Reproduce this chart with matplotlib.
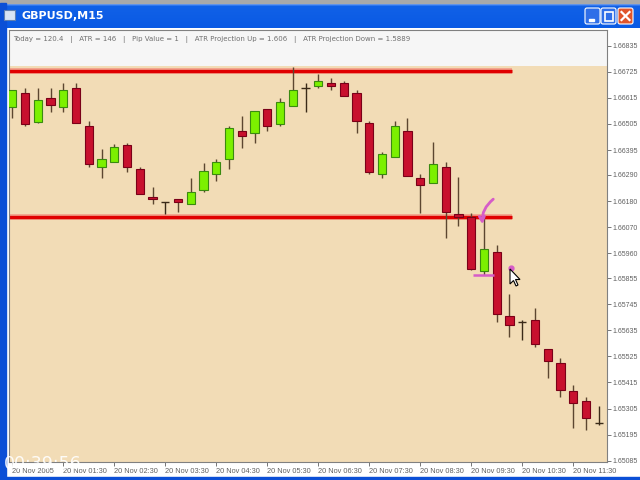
import matplotlib.pyplot as plt
import numpy as np
from matplotlib.patches import Rectangle, FancyBboxPatch, Polygon


# GBPUSD M15 candles, 20 Nov 2005 from 00:30
opens = [1.66577, 1.66636, 1.66513, 1.66614, 1.66577, 1.66657, 1.66496, 1.66323,
         1.66345, 1.66416, 1.66315, 1.66197, 1.66176, 1.66189, 1.66167, 1.66227,
         1.66294, 1.66357, 1.66475, 1.66467, 1.66568, 1.66505, 1.66581, 1.66657,
         1.66665, 1.66678, 1.66678, 1.66636, 1.66509, 1.66294, 1.66366, 1.66475,
         1.66277, 1.66256, 1.66323, 1.66125, 1.66113, 1.65885, 1.65965, 1.65695,
         1.65670, 1.65678, 1.65556, 1.65497, 1.65379, 1.65337, 1.65244]
highs = [1.66648, 1.66657, 1.66657, 1.66657, 1.66678, 1.66678, 1.66518, 1.66399,
         1.66420, 1.66425, 1.66323, 1.66239, 1.66176, 1.66189, 1.66277, 1.66340,
         1.66357, 1.66496, 1.66539, 1.66560, 1.66568, 1.66614, 1.66745, 1.66678,
         1.66716, 1.66699, 1.66686, 1.66648, 1.66518, 1.66387, 1.66518, 1.66530,
         1.66294, 1.66429, 1.66345, 1.66281, 1.66130, 1.66108, 1.65995, 1.65788,
         1.65678, 1.65729, 1.65556, 1.65518, 1.65404, 1.65354, 1.65316]
lows = [1.66530, 1.66496, 1.66509, 1.66555, 1.66555, 1.66509, 1.66323, 1.66277,
        1.66345, 1.66302, 1.66210, 1.66167, 1.66125, 1.66134, 1.66167, 1.66218,
        1.66264, 1.66315, 1.66404, 1.66425, 1.66475, 1.66496, 1.66581, 1.66555,
        1.66657, 1.66648, 1.66623, 1.66467, 1.66294, 1.66277, 1.66366, 1.66286,
        1.66130, 1.66256, 1.66024, 1.66075, 1.65889, 1.65868, 1.65670, 1.65607,
        1.65594, 1.65564, 1.65434, 1.65354, 1.65223, 1.65214, 1.65235]
closes = [1.66648, 1.66505, 1.66606, 1.66585, 1.66648, 1.66509, 1.66336, 1.66357,
          1.66408, 1.66323, 1.66210, 1.66189, 1.66176, 1.66176, 1.66218, 1.66307,
          1.66345, 1.66488, 1.66454, 1.66560, 1.66496, 1.66598, 1.66648, 1.66657,
          1.66686, 1.66665, 1.66623, 1.66518, 1.66302, 1.66378, 1.66496, 1.66286,
          1.66248, 1.66336, 1.66134, 1.66113, 1.65893, 1.65978, 1.65704, 1.65657,
          1.65670, 1.65577, 1.65505, 1.65383, 1.65328, 1.65265, 1.65244]

price_ticks = [1.66835, 1.66725, 1.66615, 1.66505, 1.66395, 1.66290, 1.66180,
               1.66070, 1.65960, 1.65855, 1.65745, 1.65635, 1.65525, 1.65415,
               1.65305, 1.65195, 1.65085]
time_label_bars = [0, 4, 8, 12, 16, 20, 24, 28, 32, 36, 40, 44]
time_labels = ['20 Nov 2005', '20 Nov 01:30', '20 Nov 02:30', '20 Nov 03:30',
               '20 Nov 04:30', '20 Nov 05:30', '20 Nov 06:30', '20 Nov 07:30',
               '20 Nov 08:30', '20 Nov 09:30', '20 Nov 10:30', '20 Nov 11:30']

resistance_level = 1.66730
support_level = 1.66114
level_end_bar = 39.2

info_text = ('Today = 120.4   |   ATR = 146   |   Pip Value = 1   |   '
             'ATR Projection Up = 1.606   |   ATR Projection Down = 1.5889')
clock_text = '00:39:56'

W, H = 640, 480


def fig_box(x0, y0, x1, y1):
    return [x0 / W, 1 - y1 / H, (x1 - x0) / W, (y1 - y0) / H]


fig = plt.figure(figsize=(6.4, 4.8), dpi=100)
fig.patch.set_facecolor('white')

# window chrome in pixel coords
bg = fig.add_axes([0, 0, 1, 1], zorder=-1)
bg.set_xlim(0, W)
bg.set_ylim(H, 0)
bg.axis('off')
bg.add_patch(Rectangle((0, 0), W, 3, color='#a9a9a9'))
grad = np.linspace(0, 1, 50)
colors = np.array([[0.35, 0.58, 0.97]]) * (1 - grad[:, None]) + np.array([[0.02, 0.30, 0.85]]) * grad[:, None]
colors[5:] = np.array([0.04, 0.36, 0.90]) * 0.9 + colors[5:] * 0.1
bg.imshow(colors[:, None, :], extent=(2, W, 28, 3), aspect='auto', origin='upper')
bg.add_patch(Rectangle((0, 3), 6, H - 3, color='#0b4fd6'))
bg.add_patch(Rectangle((0, H - 3), W, 3, color='#0b4fd6'))
bg.add_patch(Rectangle((4, 10), 11, 10, facecolor='#d8e4f4', edgecolor='#6080b0', lw=0.8))
bg.text(22, 16, 'GBPUSD,M15', color='white', fontsize=8, fontweight='bold', va='center')
for bx, fc in [(585, '#2f6ee8'), (601, '#2f6ee8'), (618, '#e0552c')]:
    bg.add_patch(FancyBboxPatch((bx, 8), 15, 16, boxstyle='round,pad=0,rounding_size=2',
                                facecolor=fc, edgecolor='white', lw=0.8))
bg.add_patch(Rectangle((589, 19), 5, 2, color='white'))
bg.add_patch(Rectangle((604.5, 11.5), 8, 9, facecolor='none', edgecolor='white', lw=1.2))
bg.plot([621.5, 629.5], [12, 20], color='white', lw=1.6)
bg.plot([621.5, 629.5], [20, 12], color='white', lw=1.6)

# chart
ax = fig.add_axes(fig_box(9, 30, 607, 462))
y_top = 1.66835 + 15.7 * 0.00004217
y_bot = 1.66835 - 416.3 * 0.00004217
beige_top = 1.66835 - 20.3 * 0.00004217
ax.set_facecolor('#f6f6f6')
ax.set_xlim(-0.26, 46.65)
ax.set_ylim(y_bot, y_top)
ax.axhspan(y_bot, beige_top, color='#f2dcb6', zorder=0, lw=0)

# support / resistance lines
for lvl in [resistance_level, support_level]:
    ax.hlines(lvl, -0.31, level_end_bar, color='#f2a38c', lw=4.2, zorder=1)
    ax.hlines(lvl, -0.31, level_end_bar, color='#e00000', lw=2.4, zorder=2)

body_w = 0.64
for i, (o, h, l, c) in enumerate(zip(opens, highs, lows, closes)):
    if abs(c - o) < 0.00003:
        ax.vlines(i, l, h, color='#3a2a18', lw=1.0, zorder=3)
        ax.hlines(o, i - body_w / 2, i + body_w / 2, color='#3a2a18', lw=1.0, zorder=3)
        continue
    up = c > o
    ax.vlines(i, l, h, color='#5c4630', lw=1.0, zorder=3)
    ax.add_patch(Rectangle((i - body_w / 2, min(o, c)), body_w, abs(c - o),
                           facecolor='#7cf000' if up else '#c8102e',
                           edgecolor='#3a8a10' if up else '#7a0018', lw=0.8, zorder=4))

# hand-drawn pink marks
pink = '#d65cc8'
ax.annotate('', xy=(36.9, 1.66070), xytext=(37.9, 1.66195),
            arrowprops=dict(arrowstyle='->', color=pink, lw=2.0,
                            connectionstyle='arc3,rad=0.3', mutation_scale=9), zorder=6)
ax.hlines(1.65868, 36.1, 37.8, color=pink, lw=1.8, zorder=6)
ax.plot(39.1, 1.65897, 'o', color=pink, ms=3.5, zorder=6)

ax.text(0.006, 0.985, info_text, transform=ax.transAxes, fontsize=5, color='#707070',
        va='top', ha='left')

ax.yaxis.tick_right()
ax.set_yticks(price_ticks)
ax.set_yticklabels([f'{p:.5f}' for p in price_ticks], family='Liberation Sans', fontsize=5.0)
ax.set_xticks(time_label_bars)
ax.set_xticklabels(time_labels, ha='left', family='Liberation Sans', fontsize=5.3)
ax.tick_params(axis='both', labelcolor='#606060', color='#606060',
               length=3, width=0.6, pad=1.2)
for sp in ax.spines.values():
    sp.set_color('#808080')
    sp.set_linewidth(0.8)

# overlay: clock and mouse cursor
ov = fig.add_axes([0, 0, 1, 1], zorder=10)
ov.set_xlim(0, W)
ov.set_ylim(H, 0)
ov.axis('off')
ov.patch.set_alpha(0)
ov.text(4, 469, clock_text, color='white', fontsize=12.5, alpha=0.9, va='baseline')
cx, cy = 510, 269
cursor = [(0, 0), (0, 15), (3.5, 11.5), (6, 17), (8, 16), (5.5, 10.5), (10, 10.5)]
ov.add_patch(Polygon([(cx + dx, cy + dy) for dx, dy in cursor], closed=True,
                     facecolor='white', edgecolor='black', lw=0.8))

plt.savefig('out.png', dpi=100)
plt.close()
